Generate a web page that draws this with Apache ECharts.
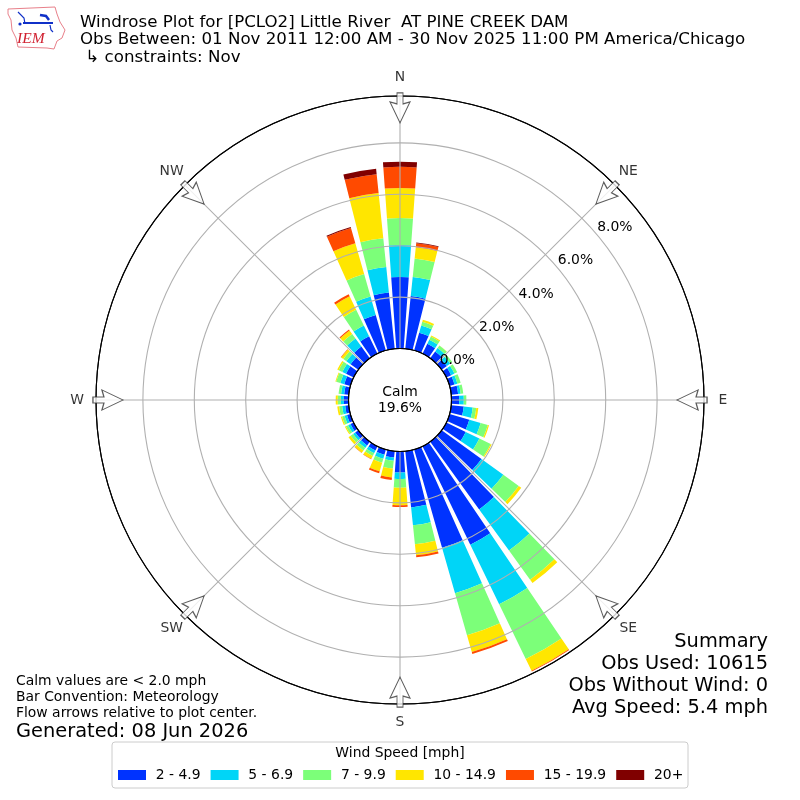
<!DOCTYPE html>
<html><head><meta charset="utf-8">
<style>html,body{margin:0;padding:0;background:#fff}#c{width:800px;height:800px}</style>
<script src="https://cdn.jsdelivr.net/npm/echarts@6/dist/echarts.min.js"></script>
</head><body><div id="c"></div>
<script>
const directions = ['0','10','20','30','40','50','60','70','80','90','100','110','120','130','140','150','160','170','180','190','200','210','220','230','240','250','260','270','280','290','300','310','320','330','340','350'];
const speedLabels = ['2 - 4.9','5 - 6.9','7 - 9.9','10 - 14.9','15 - 19.9','20+'];
const speedColors = ['#0033ff','#00d5f7','#7cff79','#ffe600','#ff4a00','#800000'];
const speed2to5 = [2.78,2.06,.72,.43,.33,.25,.21,.2,.27,.3,.49,.8,.84,1.91,3.25,4.26,3.97,2.2,.82,.25,.21,.18,.18,.15,.14,.14,.14,.18,.18,.25,.33,.37,.56,.75,1.44,2.2];
const speed5to7 = [1.25,.75,.29,.17,.16,.16,.14,.12,.1,.18,.35,.46,.59,1.05,1.98,2.57,1.84,.7,.25,.12,.16,.12,.12,.1,.1,.1,.12,.12,.12,.16,.16,.2,.39,.47,.74,1.0];
const speed7to10 = [1.05,.72,.15,.14,.12,.1,.12,.13,.1,.1,.14,.29,.49,.74,1.4,2.37,1.7,.74,.34,.31,.16,.12,.12,.12,.1,.1,.12,.12,.1,.17,.16,.15,.22,.68,.91,1.12];
const speed10to15 = [1.17,.44,.08,.05,.01,0,0,0,0,0,.08,.05,.04,.12,.16,.51,.68,.43,.68,.35,.35,.12,.11,.1,.04,.05,.07,.08,0,.03,.06,.1,.17,.58,1.25,1.77];
const speed15to20 = [.82,.16,0,0,0,0,0,0,0,0,0,0,0,0,0,.03,.08,.08,.07,.1,.08,.02,.01,0,0,0,0,0,0,0,0,.02,.04,.09,.62,.74];
const speed20plus = [.2,.03,0,0,0,0,0,0,0,0,0,0,0,0,0,0,0,0,0,0,0,0,0,0,0,0,0,0,0,0,0,0,0,0,.04,.21];
const speedSeries = [speed2to5,speed5to7,speed7to10,speed10to15,speed15to20,speed20plus];
const compassAngles = [0,45,90,135,180,225,270,315];
const compassNames = ['N','NE','E','SE','S','SW','W','NW'];
const radiusMax = 9.825;
const arrowRadiusValue = 9.36;
const compassRadiusValue = 10.56;
const titleLines = ['Windrose Plot for [PCLO2] Little River  AT PINE CREEK DAM','Obs Between: 01 Nov 2011 12:00 AM - 30 Nov 2025 11:00 PM America/Chicago',' \u21B3 constraints: Nov'];
const summaryLines = ['Summary','Obs Used: 10615','Obs Without Wind: 0','Avg Speed: 5.4 mph'];
const noteLines = ['Calm values are < 2.0 mph','Bar Convention: Meteorology','Flow arrows relative to plot center.'];
const generated = 'Generated: 08 Jun 2026';
const FONT = '"DejaVu Sans"';
const arrowPath = 'path://M7,0 L13,0 L13,11 L20,9 L10,30 L0,9 L7,11 Z';

function txt(x,y,text,size,align,color){
  return {type:'text',x:x,y:y+1.5,silent:true,z:30,style:{text:text,fontFamily:FONT,fontSize:size,fill:color||'#000',align:align||'left',verticalAlign:'middle'}};
}
const graphic = [];
titleLines.forEach((t,i)=>graphic.push(txt(80,21+i*17.5,t,16.67)));
summaryLines.forEach((t,i)=>graphic.push(txt(768,640+i*22,t,19.4,'right')));
noteLines.forEach((t,i)=>graphic.push(txt(16,680+i*16,t,13.9)));
graphic.push(txt(16,730,generated,19.4));
graphic.push(txt(400,390.5,'Calm',13.9,'center'));
graphic.push(txt(400,406.5,'19.6%',13.9,'center'));
// legend frame
graphic.push({type:'rect',silent:true,z:1,shape:{x:112,y:742,width:576,height:46,r:3},style:{fill:'#fff',stroke:'#cccccc',lineWidth:1}});
graphic.push(txt(400,752,'Wind Speed [mph]',13.9,'center'));
// logo
graphic.push({type:'polyline',silent:true,z:30,shape:{points:[[8,9],[55,7],[57,14],[60,22],[65,30],[62,38],[57,41],[54,49],[47,48],[18,47],[16,38],[12,30],[11,20],[8,14],[8,9]]},style:{fill:'none',stroke:'#e8808a',lineWidth:1}});
graphic.push({type:'polyline',silent:true,z:30,shape:{points:[[23,23],[53,23]]},style:{stroke:'#1030c8',lineWidth:2,fill:'none'}});
graphic.push({type:'polyline',silent:true,z:30,shape:{points:[[18,12],[24,18],[25,24]]},style:{stroke:'#1030c8',lineWidth:1.2,fill:'none'}});
graphic.push({type:'polyline',silent:true,z:30,shape:{points:[[40,15],[46,16],[49,20]]},style:{stroke:'#1030c8',lineWidth:2.5,fill:'none'}});
graphic.push({type:'polyline',silent:true,z:30,shape:{points:[[50,25],[51,30],[53,32]]},style:{stroke:'#1030c8',lineWidth:1.2,fill:'none'}});
graphic.push({type:'circle',silent:true,z:30,shape:{cx:20,cy:24,r:1.6},style:{fill:'#1030c8'}});
graphic.push({type:'text',silent:true,z:30,x:17,y:39,style:{text:'IEM',fontFamily:'"Liberation Serif"',fontStyle:'italic',fontSize:15.5,fill:'#d02030',verticalAlign:'middle'}});

const polarCfg = {center:[400,400],radius:[51.5,304]};
const chart = echarts.init(document.getElementById('c'),null,{renderer:'canvas'});
chart.setOption({
  animation:false,
  backgroundColor:'#fff',
  textStyle:{fontFamily:FONT},
  polar:[polarCfg,polarCfg,polarCfg],
  angleAxis:[
    {polarIndex:0,type:'category',data:directions,startAngle:95,axisLine:{show:false},axisTick:{show:false},axisLabel:{show:false},splitLine:{show:false}},
    {polarIndex:1,type:'value',min:0,max:360,interval:45,startAngle:90,z:10,
      axisLine:{show:true,lineStyle:{color:'#000',width:1.1}},axisTick:{show:false},
      splitLine:{show:true,lineStyle:{color:'#b0b0b0',width:1.1}},
      axisLabel:{show:false}},
    {polarIndex:2,type:'value',min:0,max:360,startAngle:40,axisLine:{show:false},axisTick:{show:false},axisLabel:{show:false},splitLine:{show:false}}
  ],
  radiusAxis:[
    {polarIndex:0,type:'value',min:0,max:radiusMax,interval:2,z:10,axisLine:{show:false},axisTick:{show:false},axisLabel:{show:false},
      splitLine:{show:true,lineStyle:{color:['#000','#b0b0b0','#b0b0b0','#b0b0b0','#b0b0b0','#000'],width:1.1}}},
    {polarIndex:1,type:'value',min:0,max:radiusMax,interval:2,axisLine:{show:false},axisTick:{show:false},axisLabel:{show:false},splitLine:{show:false}},
    {polarIndex:2,type:'value',min:0,max:radiusMax,interval:2,z:12,axisLine:{show:false},axisTick:{show:false},splitLine:{show:false},
      axisLabel:{show:true,margin:9,align:'left',verticalAlign:'middle',padding:[0,0,0,6],fontSize:13.9,color:'#000',fontFamily:FONT,
        formatter:v=>v>8.5?'':v.toFixed(1)+'%'}}
  ],
  legend:{show:true,data:speedLabels,left:118,top:768,itemWidth:28,itemHeight:10,itemGap:10,icon:'rect',padding:0,z:5,
    textStyle:{fontSize:13.9,color:'#000',fontFamily:FONT,padding:[0,0,0,4.8]}},
  series:speedLabels.map((name,i)=>({
    name:name,type:'bar',coordinateSystem:'polar',polarIndex:0,stack:'w',barWidth:'82%',
    data:speedSeries[i],itemStyle:{color:speedColors[i]},silent:true,z:2
  })).concat([{
    type:'scatter',coordinateSystem:'polar',polarIndex:1,clip:false,z:20,silent:true,
    symbol:arrowPath,symbolSize:[20,30],
    itemStyle:{color:'#fff',borderColor:'#333',borderWidth:1.1},
    data:compassAngles.map(a=>({value:[arrowRadiusValue,a],symbolRotate:-a}))
  },{
    type:'scatter',coordinateSystem:'polar',polarIndex:1,clip:false,z:20,silent:true,
    symbol:'circle',symbolSize:1,itemStyle:{color:'transparent'},
    label:{show:true,position:'inside',fontSize:13.9,color:'#000',fontFamily:FONT,formatter:p=>p.name},
    data:compassAngles.map((a,i)=>({name:compassNames[i],value:[compassRadiusValue,a]}))
  }]),
  graphic:graphic
});
</script></body></html>
